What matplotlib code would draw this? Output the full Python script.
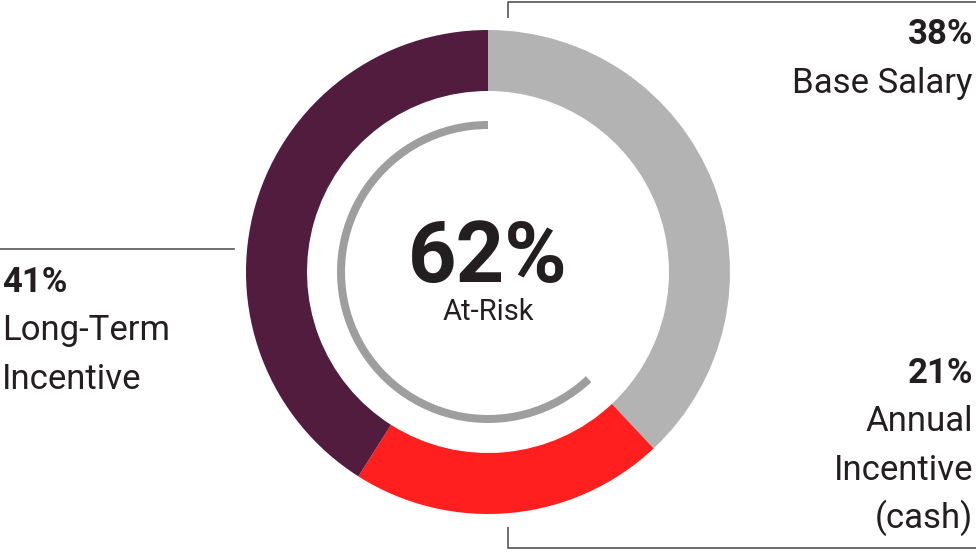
import matplotlib
matplotlib.use("Agg")
import matplotlib.pyplot as plt
from matplotlib.patches import Wedge

# ---- data ----
categories = ["Base Salary", "Annual\nIncentive\n(cash)", "Long-Term\nIncentive"]
values = [38, 21, 41]
pct_labels = ["38%", "21%", "41%"]
at_risk = 62
center_label = "At-Risk"
colors = ["#b3b3b3", "#ff1f1f", "#521c3e"]

plt.rcParams['font.family'] = ['Roboto', 'DejaVu Sans']
TXT = "#231f20"

W, H = 976, 553
fig = plt.figure(figsize=(W / 100, H / 100), dpi=100)
ax = fig.add_axes([0, 0, 1, 1])

cx, cy = 488, H - 272
R, ring = 242, 61

ax.pie(values, colors=colors, startangle=90, counterclock=False,
       radius=R, center=(cx, cy),
       wedgeprops=dict(width=ring, linewidth=0), frame=True)
ax.set_xlim(0, W)
ax.set_ylim(0, H)
ax.set_aspect('equal')
ax.axis('off')

# inner at-risk arc (counter-clockwise from top)
arc = Wedge((cx, cy), 151, 90, 90 + at_risk / 100 * 360, width=8,
            facecolor="#9e9e9e", edgecolor='none')
ax.add_patch(arc)

ax.text(cx, H - 282, f"{at_risk}%", ha='center', va='baseline',
        fontsize=61, fontweight='bold', color=TXT)
ax.text(cx, H - 320, center_label, ha='center', va='baseline',
        fontsize=21, color=TXT)

# connector lines
lc = "#555555"
lw = 1.2
ax.plot([508, 508, W], [H - 18, H - 2, H - 2], color=lc, lw=lw, solid_capstyle='butt')
ax.plot([508, 508, W], [H - 527, H - 548, H - 548], color=lc, lw=lw, solid_capstyle='butt')
ax.plot([0, 234], [H - 249, H - 249], color=lc, lw=lw)

fs = 25
# Base Salary (top right)
ax.text(973, H - 44, pct_labels[0], ha='right', va='baseline', fontsize=fs,
        fontweight='bold', color=TXT)
ax.text(973, H - 93, categories[0], ha='right', va='baseline', fontsize=fs, color=TXT)

# Annual Incentive (bottom right)
ax.text(973, H - 383, pct_labels[1], ha='right', va='baseline', fontsize=fs,
        fontweight='bold', color=TXT)
for i, line in enumerate(categories[1].split("\n")):
    ax.text(973, H - 431 - i * 48.5, line, ha='right', va='baseline',
            fontsize=fs, color=TXT)

# Long-Term Incentive (left)
ax.text(2, H - 292, pct_labels[2], ha='left', va='baseline', fontsize=fs,
        fontweight='bold', color=TXT)
for i, line in enumerate(categories[2].split("\n")):
    ax.text(2, H - 340 - i * 49, line, ha='left', va='baseline',
            fontsize=fs, color=TXT)

fig.savefig("out.png", dpi=100, facecolor='white')
